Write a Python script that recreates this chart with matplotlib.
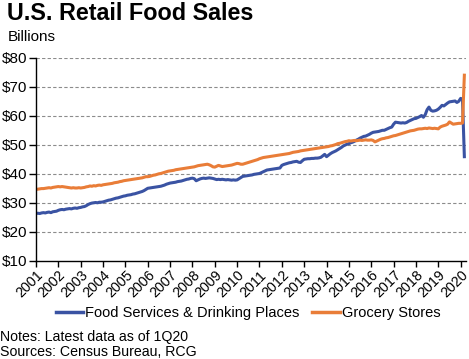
import numpy as np
import matplotlib
matplotlib.use('Agg')
import matplotlib.pyplot as plt

params = {'font.family': ['Liberation Sans', 'DejaVu Sans'],
          'font.size': 11,
          'xtick.labelsize': 10.3,
          'ytick.labelsize': 11,
          'axes.linewidth': 1.0,
          }
matplotlib.rcParams.update(params)

# monthly sales, $ billions, Jan 2001 - Mar 2020
food_services = [
    26.2, 26.3, 26.2, 26.4, 26.5, 26.4, 26.6, 26.7, 26.5, 26.8, 26.9, 27.0,  # 2001
    27.3, 27.5, 27.6, 27.5, 27.7, 27.8, 27.9, 27.8, 28.0, 28.1, 28.0, 28.2,  # 2002
    28.3, 28.5, 28.6, 28.9, 29.3, 29.6, 29.8, 29.9, 30.0, 29.9, 30.1, 30.1,  # 2003
    30.2, 30.4, 30.6, 30.8, 30.9, 31.1, 31.3, 31.5, 31.6, 31.8, 32.0, 32.2,  # 2004
    32.3, 32.5, 32.6, 32.7, 32.9, 33.0, 33.2, 33.4, 33.6, 33.8, 34.1, 34.5,  # 2005
    34.9, 35.0, 35.1, 35.2, 35.3, 35.4, 35.5, 35.6, 35.8, 36.0, 36.3, 36.5,  # 2006
    36.7, 36.8, 36.9, 37.0, 37.2, 37.3, 37.4, 37.6, 37.8, 38.0, 38.1, 38.3,  # 2007
    38.4, 38.2, 37.5, 37.8, 38.1, 38.3, 38.4, 38.3, 38.4, 38.5, 38.4, 38.3,  # 2008
    38.1, 37.9, 38.0, 37.9, 38.0, 37.9, 37.8, 37.9, 37.8, 37.7, 37.8, 37.7,  # 2009
    37.8, 38.2, 38.6, 39.0, 39.1, 39.2, 39.3, 39.4, 39.5, 39.7, 39.8, 39.9,  # 2010
    40.0, 40.3, 40.6, 40.9, 41.2, 41.3, 41.4, 41.5, 41.6, 41.7, 41.8, 41.9,  # 2011
    42.8, 43.1, 43.3, 43.5, 43.7, 43.8, 44.0, 44.1, 44.2, 43.9, 43.8, 44.4,  # 2012
    44.9, 45.0, 45.1, 45.1, 45.2, 45.2, 45.3, 45.3, 45.4, 45.6, 46.1, 46.6,  # 2013
    45.8, 46.3, 46.8, 47.2, 47.5, 47.8, 48.2, 48.6, 49.0, 49.5, 49.8, 50.1,  # 2014
    50.3, 50.6, 50.8, 51.1, 51.5, 51.8, 52.2, 52.5, 52.8, 52.9, 53.2, 53.5,  # 2015
    53.9, 54.2, 54.3, 54.4, 54.5, 54.7, 54.9, 54.9, 55.2, 55.5, 55.8, 56.0,  # 2016
    57.0, 57.7, 57.6, 57.5, 57.4, 57.5, 57.4, 57.6, 58.0, 58.3, 58.6, 58.9,  # 2017
    59.0, 59.3, 59.6, 60.0, 59.4, 60.3, 62.0, 62.9, 61.8, 61.5, 61.6, 61.8,  # 2018
    62.2, 62.8, 63.5, 63.3, 63.8, 64.3, 64.7, 64.8, 64.9, 65.0, 64.5, 64.9,  # 2019
    65.9, 65.6, 45.8,                                                        # 2020
]
grocery = [
    34.5, 34.6, 34.7, 34.8, 34.8, 34.9, 35.0, 35.1, 35.0, 35.2, 35.3, 35.4,  # 2001
    35.5, 35.4, 35.5, 35.4, 35.3, 35.2, 35.1, 35.0, 35.1, 35.0, 35.0, 35.1,  # 2002
    35.0, 35.1, 35.2, 35.4, 35.5, 35.7, 35.6, 35.8, 35.7, 35.9, 36.0, 35.9,  # 2003
    36.1, 36.2, 36.3, 36.4, 36.5, 36.6, 36.8, 36.9, 37.0, 37.2, 37.3, 37.5,  # 2004
    37.6, 37.7, 37.8, 37.9, 38.0, 38.1, 38.2, 38.3, 38.4, 38.5, 38.7, 38.9,  # 2005
    38.9, 39.0, 39.2, 39.4, 39.5, 39.7, 39.9, 40.0, 40.2, 40.4, 40.6, 40.8,  # 2006
    40.9, 41.0, 41.1, 41.3, 41.4, 41.5, 41.6, 41.7, 41.8, 41.9, 42.0, 42.1,  # 2007
    42.2, 42.3, 42.5, 42.7, 42.8, 42.9, 43.0, 43.1, 43.2, 43.0, 42.7, 42.3,  # 2008
    42.2, 42.5, 42.8, 42.6, 42.4, 42.5, 42.6, 42.7, 42.8, 42.9, 43.1, 43.3,  # 2009
    43.5, 43.4, 43.2, 43.2, 43.4, 43.6, 43.8, 44.0, 44.2, 44.4, 44.6, 44.8,  # 2010
    45.1, 45.3, 45.5, 45.6, 45.7, 45.8, 45.9, 46.0, 46.1, 46.2, 46.3, 46.4,  # 2011
    46.5, 46.6, 46.7, 46.8, 46.9, 47.1, 47.3, 47.4, 47.5, 47.6, 47.8, 47.9,  # 2012
    48.0, 48.1, 48.2, 48.3, 48.4, 48.5, 48.6, 48.7, 48.8, 48.9, 49.0, 49.1,  # 2013
    49.2, 49.3, 49.5, 49.6, 49.8, 50.0, 50.3, 50.4, 50.6, 50.8, 51.0, 51.1,  # 2014
    51.3, 51.2, 51.3, 51.4, 51.3, 51.4, 51.5, 51.4, 51.5, 51.6, 51.5, 51.5,  # 2015
    51.6, 51.4, 50.9, 51.2, 51.5, 51.8, 52.0, 52.1, 52.3, 52.4, 52.6, 52.8,  # 2016
    53.0, 53.1, 53.3, 53.5, 53.7, 53.9, 54.1, 54.3, 54.5, 54.7, 54.8, 54.9,  # 2017
    55.1, 55.3, 55.4, 55.4, 55.5, 55.6, 55.5, 55.7, 55.6, 55.5, 55.6, 55.5,  # 2018
    55.4, 56.0, 56.3, 56.5, 56.7, 57.0, 57.8, 57.4, 57.0, 57.1, 57.2, 57.3,  # 2019
    57.3, 57.4, 73.9,                                                        # 2020
]
years = list(range(2001, 2021))
yticks = [10, 20, 30, 40, 50, 60, 70, 80]

blue = '#3A53A3'
orange = '#E97D38'

# month index -> decimal year
t = 2001 + np.arange(len(food_services)) / 12.0

fig = plt.figure(figsize=(4.69, 3.59), dpi=100)
ax = fig.add_axes([36/469, 1 - 260.5/359, 430/469, 203/359])

for y in yticks[1:]:
    ax.axhline(y, color='#8c8c8c', linestyle=(0, (3, 2)), linewidth=0.8, zorder=0)

ax.plot(t, food_services, color=blue, linewidth=2.2, label='Food Services & Drinking Places')
ax.plot(t, grocery, color=orange, linewidth=2.2, label='Grocery Stores')

ax.set_xlim(2001, 2020.24)
ax.set_ylim(10, 80)
ax.set_yticks(yticks)
ax.set_yticklabels(['$%d' % v for v in yticks])
ax.set_xticks(years)
ax.set_xticklabels([str(y) for y in years], rotation=45, ha='right',
                   rotation_mode='anchor')
ax.tick_params(axis='y', direction='out', length=5, width=1, pad=1)
ax.tick_params(axis='x', direction='out', length=4, width=1, pad=1.5)
ax.spines['top'].set_visible(False)
ax.spines['right'].set_visible(False)

leg = fig.legend(loc='center', bbox_to_anchor=(248/469, 1 - 313/359), ncol=2,
                 frameon=False, fontsize=10.5, handlelength=1.9,
                 handletextpad=0.1, columnspacing=0.9)
for line in leg.get_lines():
    line.set_linewidth(2.5)

fig.text(7/469, 1 - 13/359, 'U.S. Retail Food Sales', fontsize=16.8,
         fontweight='bold', va='center', ha='left')
fig.text(8/469, 1 - 37/359, 'Billions', fontsize=11, va='center', ha='left')
fig.text(0, 1 - 337/359, 'Notes: Latest data as of 1Q20', fontsize=10.2,
         va='center', ha='left')
fig.text(0, 1 - 352/359, 'Sources: Census Bureau, RCG', fontsize=10.2,
         va='center', ha='left')

fig.savefig('out.png', dpi=100)
